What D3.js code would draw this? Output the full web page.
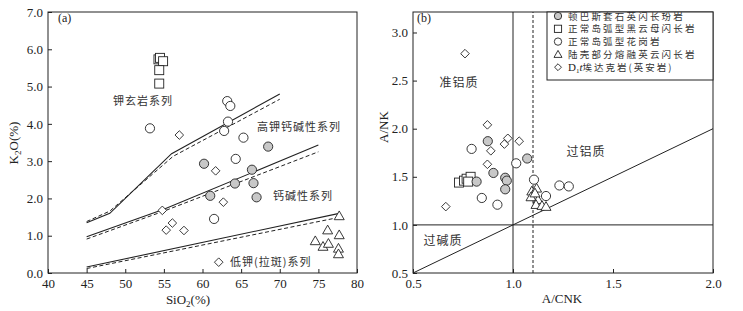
<!DOCTYPE html>
<html>
<head>
<meta charset="utf-8">
<script src="https://cdn.jsdelivr.net/npm/d3@7"></script>
<style>
  body { margin: 0; background: #fff; }
  svg text { font-family: "Liberation Serif", "Times New Roman", serif; fill: #222; }
  .cn { font-family: "Noto Sans CJK SC", sans-serif; letter-spacing: 1px; fill: #333; }
</style>
</head>
<body>
<svg width="743" height="311"></svg>
<script>
// ---- (a) SiO2 - K2O data, [SiO2, K2O] ----
const harkerGray = [[60.2,2.93],[61.0,2.07],[64.2,2.40],[66.4,2.77],[66.6,2.41],[67.0,2.03],[68.5,3.39]];
const harkerSquare = [[54.3,5.73],[54.5,5.77],[54.9,5.68],[54.4,5.44],[54.4,5.08]];
const harkerOpen = [[53.2,3.88],[63.2,4.61],[63.6,4.48],[63.3,4.06],[62.8,3.81],[65.3,3.63],[64.3,3.06],[61.5,1.45]];
const harkerTriangle = [[77.7,1.53],[76.2,1.15],[77.7,1.02],[74.6,0.86],[75.6,0.71],[76.3,0.79],[77.6,0.66],[77.6,0.51]];
const harkerDiamond = [[57.0,3.70],[61.7,2.74],[54.8,1.68],[56.1,1.34],[55.3,1.15],[57.6,1.14],[62.7,1.90],[62.1,0.29]];

// boundary lines (solid / dashed)
const lineHighSolid = [[45,1.35],[48,1.6],[56,3.2],[70,4.8]];
const lineHighDash = [[45,1.38],[48,1.66],[56.2,3.13],[70,4.66]];
const lineMidSolid = [[45,0.97],[55,1.71],[75,3.43]];
const lineMidDash = [[45,0.91],[55,1.66],[75,3.25]];
const lineLowSolid = [[45,0.16],[77.7,1.60]];
const lineLowDash = [[45,0.12],[77.4,1.48]];

const xTicksA = [40,45,50,55,60,65,70,75,80];
const yTicksA = [0,1,2,3,4,5,6,7];

// ---- (b) A/CNK - A/NK data, [A/CNK, A/NK] ----
const acnkGray = [[0.874,1.87],[0.902,1.54],[0.818,1.45],[0.961,1.49],[0.969,1.46],[0.961,1.37],[1.071,1.69]];
const acnkSquare = [[0.73,1.44],[0.755,1.46],[0.768,1.48],[0.788,1.50],[0.776,1.45]];
const acnkOpen = [[0.793,1.79],[1.016,1.64],[0.844,1.28],[0.922,1.21],[1.105,1.47],[1.165,1.30],[1.232,1.41],[1.279,1.40]];
const acnkTriangle = [[1.094,1.35],[1.118,1.38],[1.09,1.29],[1.125,1.26],[1.115,1.21],[1.145,1.20],[1.165,1.19],[1.11,1.33]];
const acnkDiamond = [[0.76,2.78],[0.872,2.04],[0.889,1.77],[0.957,1.84],[0.974,1.90],[1.031,1.87],[0.872,1.63],[0.664,1.19]];

const xTicksB = [0.5,1.0,1.5,2.0];
const yTicksB = [0.5,1.0,1.5,2.0,2.5,3.0];

const legendLabels = ['顿巴斯套石英闪长玢岩','正常岛弧型黑云母闪长岩','正常岛弧型花岗岩','陆壳部分熔融英云闪长岩','埃达克岩(英安岩)'];
const legendShapes = ['gray','square','open','triangle','diamond'];

const svg = d3.select('svg');

// draw one marker of a given kind at px,py
function marker(g, kind, px, py, s) {
    s = s || 1;
    if (kind == 'gray' || kind == 'open') {
        g.append('circle').attr('cx', px).attr('cy', py).attr('r', 4.6 * s)
          .attr('fill', kind == 'gray' ? '#c8c8c8' : '#fff').attr('stroke', '#222').attr('stroke-width', 0.9);
    } else if (kind == 'square') {
        let h = 4.5 * s;
        g.append('rect').attr('x', px - h).attr('y', py - h).attr('width', 2 * h).attr('height', 2 * h)
          .attr('fill', '#fff').attr('stroke', '#222').attr('stroke-width', 0.9);
    } else if (kind == 'triangle') {
        let h = 5 * s;
        g.append('path').attr('d', `M${px},${py - h}L${px + h},${py + h * 0.75}L${px - h},${py + h * 0.75}Z`)
          .attr('fill', '#fff').attr('stroke', '#222').attr('stroke-width', 0.9);
    } else {
        let h = 4.3 * s;
        g.append('path').attr('d', `M${px},${py - h}L${px + h},${py}L${px},${py + h}L${px - h},${py}Z`)
          .attr('fill', '#fff').attr('stroke', '#222').attr('stroke-width', 0.9);
    }
}

function frame(g, x, y) {
    const xr = x.range(), yr = y.range();
    g.append('rect').attr('x', xr[0]).attr('y', yr[1]).attr('width', xr[1] - xr[0]).attr('height', yr[0] - yr[1])
      .attr('fill', 'none').attr('stroke', '#222').attr('stroke-width', 1);
}

function axes(g, x, y, xt, yt, fmt) {
    const xAxis = d3.axisBottom(x).tickValues(xt).tickSize(-4).tickPadding(6).tickFormat(fmt.x);
    const yAxis = d3.axisLeft(y).tickValues(yt).tickSize(-4).tickPadding(5).tickFormat(fmt.y);
    const gx = g.append('g').attr('transform', `translate(0,${y.range()[0]})`).call(xAxis);
    const gy = g.append('g').attr('transform', `translate(${x.range()[0]},0)`).call(yAxis);
    [gx, gy].forEach(a => {
        a.select('.domain').remove();
        a.selectAll('line').attr('stroke', '#222');
        a.selectAll('text').attr('font-size', 13).attr('font-family', 'Liberation Serif').attr('fill', '#222');
    });
}

function drawPanelA() {
    const x = d3.scaleLinear().domain([40, 80]).range([48, 357]);
    const y = d3.scaleLinear().domain([0, 7]).range([273, 12]);
    const g = svg.append('g');

    const line = d3.line().x(d => x(d[0])).y(d => y(d[1]));
    [lineHighSolid, lineMidSolid, lineLowSolid].forEach(l => {
        g.append('path').datum(l).attr('d', line).attr('fill', 'none').attr('stroke', '#222').attr('stroke-width', 1.1);
    });
    [lineHighDash, lineMidDash, lineLowDash].forEach(l => {
        g.append('path').datum(l).attr('d', line).attr('fill', 'none').attr('stroke', '#222')
          .attr('stroke-width', 1).attr('stroke-dasharray', '4,2.5');
    });

    const sets = [harkerSquare, harkerOpen, harkerGray, harkerDiamond, harkerTriangle];
    const kinds = ['square', 'open', 'gray', 'diamond', 'triangle'];
    sets.forEach((s, i) => s.forEach(d => marker(g, kinds[i], x(d[0]), y(d[1]))));

    frame(g, x, y);
    axes(g, x, y, xTicksA, yTicksA, { x: d3.format('d'), y: d3.format('.1f') });

    g.append('text').attr('x', 58).attr('y', 22).attr('font-size', 12).text('(a)');
    g.append('text').attr('class', 'cn').attr('x', 143).attr('y', 105).attr('font-size', 11)
      .attr('text-anchor', 'middle').text('钾玄岩系列');
    g.append('text').attr('class', 'cn').attr('x', 257).attr('y', 131).attr('font-size', 11).text('高钾钙碱性系列');
    g.append('text').attr('class', 'cn').attr('x', 273).attr('y', 200).attr('font-size', 11).text('钙碱性系列');
    g.append('text').attr('class', 'cn').attr('x', 230).attr('y', 266).attr('font-size', 11).text('低钾(拉斑)系列');

    let xl = g.append('text').attr('x', 188).attr('y', 304).attr('font-size', 13).attr('text-anchor', 'middle');
    xl.append('tspan').text('SiO');
    xl.append('tspan').attr('font-size', 9).attr('dy', 3).text('2');
    xl.append('tspan').attr('dy', -3).text('(%)');

    let yl = g.append('text').attr('transform', 'translate(18,143) rotate(-90)').attr('font-size', 13).attr('text-anchor', 'middle');
    yl.append('tspan').text('K');
    yl.append('tspan').attr('font-size', 9).attr('dy', 3).text('2');
    yl.append('tspan').attr('dy', -3).text('O(%)');
}

function drawPanelB() {
    const x = d3.scaleLinear().domain([0.5, 2.0]).range([413, 713]);
    const y = d3.scaleLinear().domain([0.5, 3.213]).range([273, 12]);
    const g = svg.append('g');

    // field boundaries
    g.append('line').attr('x1', x(0.5)).attr('y1', y(0.5)).attr('x2', x(2.0)).attr('y2', y(2.0)).attr('stroke', '#222');
    g.append('line').attr('x1', x(0.5)).attr('y1', y(1.0)).attr('x2', x(2.0)).attr('y2', y(1.0)).attr('stroke', '#222');
    g.append('line').attr('x1', x(1.0)).attr('y1', y(0.5)).attr('x2', x(1.0)).attr('y2', y(3.213)).attr('stroke', '#222');
    g.append('line').attr('x1', x(1.1)).attr('y1', y(0.5)).attr('x2', x(1.1)).attr('y2', y(3.213))
      .attr('stroke', '#222').attr('stroke-dasharray', '3,2');

    const sets = [acnkDiamond, acnkSquare, acnkOpen, acnkGray, acnkTriangle];
    const kinds = ['diamond', 'square', 'open', 'gray', 'triangle'];
    sets.forEach((s, i) => s.forEach(d => marker(g, kinds[i], x(d[0]), y(d[1]))));

    frame(g, x, y);
    axes(g, x, y, xTicksB, yTicksB, { x: d3.format('.1f'), y: d3.format('.1f') });

    // legend
    g.append('rect').attr('x', 547).attr('y', 12).attr('width', 713 - 547).attr('height', 68)
      .attr('fill', '#fff').attr('stroke', '#222');
    legendLabels.forEach((t, i) => {
        let ly = 16 + i * 12.8;
        marker(g, legendShapes[i], 558, ly, 0.8);
        let tx = g.append('text').attr('x', 568).attr('y', ly + 3.5).attr('font-size', 9.5);
        if (i == 4) {
            tx.append('tspan').attr('font-size', 11).text('D');
            tx.append('tspan').attr('font-size', 7).attr('dy', 2).text('1');
            tx.append('tspan').attr('font-size', 11).attr('font-style', 'italic').attr('dy', -2).text('t');
            tx.append('tspan').attr('class', 'cn').style('letter-spacing', '2px').text(t);
        } else {
            tx.attr('class', 'cn').style('letter-spacing', '2.2px').text(t);
        }
    });

    g.append('text').attr('x', 417).attr('y', 22).attr('font-size', 12).text('(b)');
    g.append('text').attr('class', 'cn').attr('x', 459).attr('y', 87).attr('font-size', 12).attr('text-anchor', 'middle').text('准铝质');
    g.append('text').attr('class', 'cn').attr('x', 586).attr('y', 156).attr('font-size', 12).attr('text-anchor', 'middle').text('过铝质');
    g.append('text').attr('class', 'cn').attr('x', 443).attr('y', 245).attr('font-size', 12).attr('text-anchor', 'middle').text('过碱质');

    g.append('text').attr('x', 562).attr('y', 303).attr('font-size', 13).attr('text-anchor', 'middle').text('A/CNK');
    g.append('text').attr('transform', 'translate(388,127) rotate(-90)').attr('font-size', 13)
      .attr('text-anchor', 'middle').text('A/NK');
}

drawPanelA();
drawPanelB();
</script>
</body>
</html>
